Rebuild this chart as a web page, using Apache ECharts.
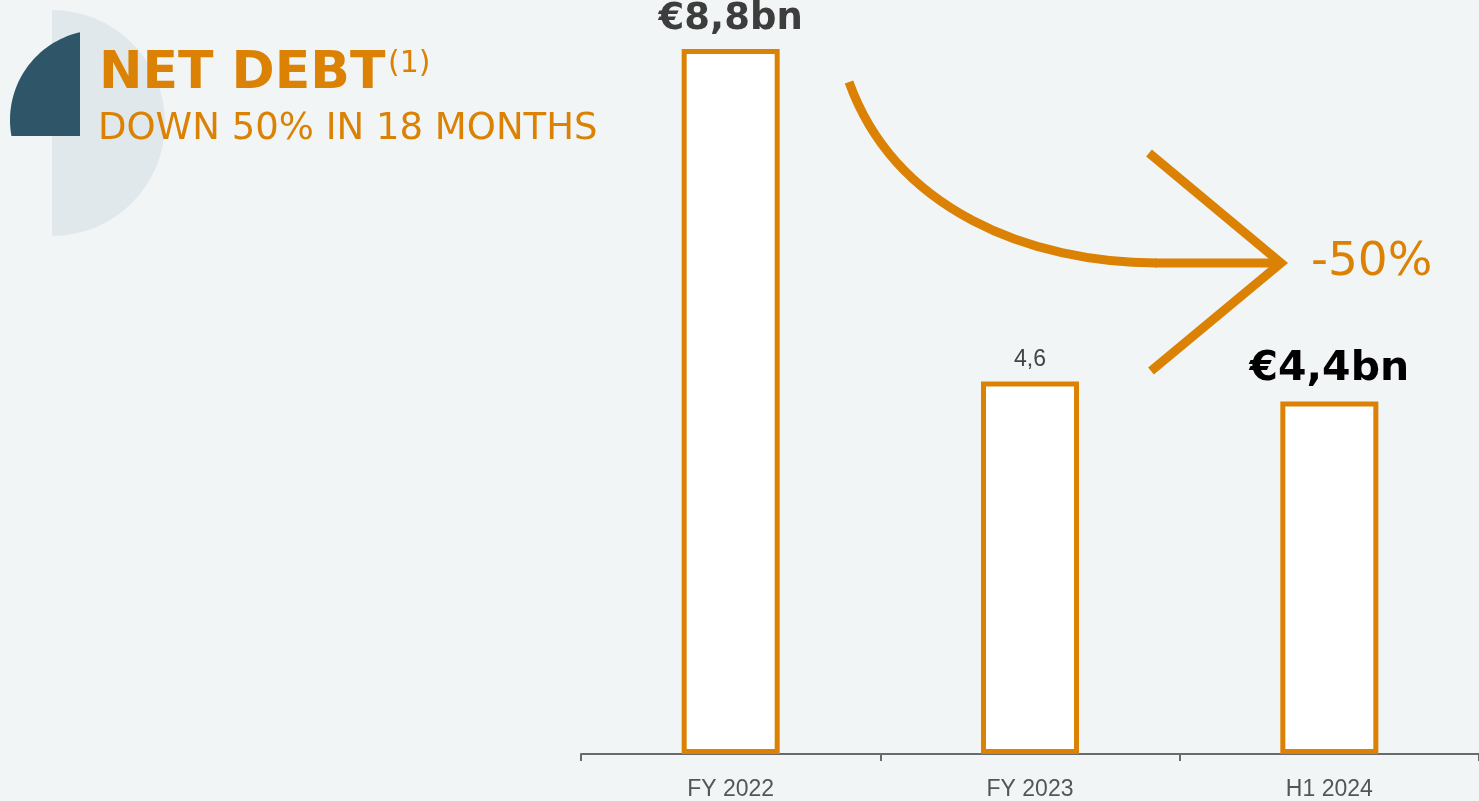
<!DOCTYPE html>
<html>
<head>
<meta charset="utf-8">
<title>Net debt</title>
<script src="https://cdn.jsdelivr.net/npm/echarts@6/dist/echarts.min.js"></script>
<style>
  html, body { margin: 0; padding: 0; background: #f1f5f6; }
  #chart { width: 1479px; height: 801px; }
</style>
</head>
<body>
<div id="chart"></div>
<script>
// data
var categories = ['FY 2022', 'FY 2023', 'H1 2024'];
var netDebt = [8.8, 4.65, 4.4];
var barLabels = ['€8,8bn', '4,6', '€4,4bn'];
var changeText = '-50%';

var orange = '#db8205';

// one label style per bar
var labelStyles = [
    { fontFamily: 'DejaVu Sans', fontWeight: 'bold', fontSize: 37, color: '#3d3d3d', distance: 11 },
    { fontFamily: 'Liberation Sans', fontWeight: 'normal', fontSize: 23, color: '#444444', distance: 10 },
    { fontFamily: 'DejaVu Sans', fontWeight: 'bold', fontSize: 41, color: '#000000', distance: 12 }
];

var barData = netDebt.map(function (v, i) {
    return {
        value: v,
        label: Object.assign({ show: true, position: 'top', formatter: barLabels[i] }, labelStyles[i])
    };
});

// dark quarter disc: circle (100,120) r=90 cut at x=80 and y=136
var darkPts = [[80, 136]];
var a0 = Math.atan2(32.25 - 120, 80 - 100);
var a1 = Math.atan2(136 - 120, 11.43 - 100) - 2 * Math.PI;
for (var k = 0; k <= 40; k++) {
    var a = a0 + (a1 - a0) * k / 40;
    darkPts.push([100 + 90 * Math.cos(a), 120 + 90 * Math.sin(a)]);
}

var chart = echarts.init(document.getElementById('chart'));

var option = {
    backgroundColor: '#f1f5f6',
    animation: false,
    title: [
        {
            text: 'NET DEBT',
            left: 99,
            top: 48,
            padding: 0,
            textStyle: { fontFamily: 'DejaVu Sans', fontWeight: 'bold', fontSize: 52, color: orange }
        },
        {
            text: '(1)',
            left: 388,
            top: 49,
            padding: 0,
            textStyle: { fontFamily: 'DejaVu Sans', fontWeight: 'normal', fontSize: 30, color: orange }
        },
        {
            text: 'DOWN 50% IN 18 MONTHS',
            left: 98,
            top: 111,
            padding: 0,
            textStyle: { fontFamily: 'DejaVu Sans', fontWeight: 'normal', fontSize: 37, color: orange }
        }
    ],
    grid: { left: 581, right: -2, top: 33, bottom: 47 },
    xAxis: {
        type: 'category',
        data: categories,
        axisLine: { lineStyle: { color: '#6a6a6a', width: 2 } },
        axisTick: { show: true, length: 7, lineStyle: { color: '#6a6a6a', width: 2 } },
        axisLabel: { fontFamily: 'Liberation Sans', fontSize: 23, color: '#555555', margin: 24 }
    },
    yAxis: {
        type: 'value',
        min: 0,
        max: 9,
        show: false,
        splitLine: { show: false }
    },
    series: [
        {
            type: 'bar',
            data: barData,
            barWidth: 98,
            itemStyle: { color: '#ffffff', borderColor: orange, borderWidth: 5 },
            z: 3
        }
    ],
    graphic: [
        // decorative discs behind the heading
        {
            type: 'sector',
            z: -1,
            shape: { cx: 52, cy: 123, r: 113, startAngle: -Math.PI / 2, endAngle: Math.PI / 2 },
            style: { fill: '#e1e8eb' }
        },
        {
            type: 'polygon',
            z: 0,
            shape: { points: darkPts },
            style: { fill: '#2e5668' }
        },
        // curved arrow
        {
            type: 'bezierCurve',
            z: 5,
            shape: { x1: 849, y1: 82, cpx1: 895, cpy1: 210, cpx2: 1030, cpy2: 263, x2: 1157, y2: 263 },
            style: { fill: null, stroke: orange, lineWidth: 9 }
        },
        {
            type: 'polyline',
            z: 5,
            shape: { points: [[1155, 263], [1281, 263]] },
            style: { fill: null, stroke: orange, lineWidth: 9 }
        },
        {
            type: 'polyline',
            z: 5,
            shape: { points: [[1149, 153], [1281, 263], [1151, 371]] },
            style: { fill: null, stroke: orange, lineWidth: 9, lineJoin: 'miter' }
        },
        {
            type: 'text',
            z: 5,
            x: 1311,
            y: 263,
            style: {
                text: changeText,
                font: 'normal 47px "DejaVu Sans"',
                fill: orange,
                verticalAlign: 'middle'
            }
        }
    ]
};

chart.setOption(option);
</script>
</body>
</html>
